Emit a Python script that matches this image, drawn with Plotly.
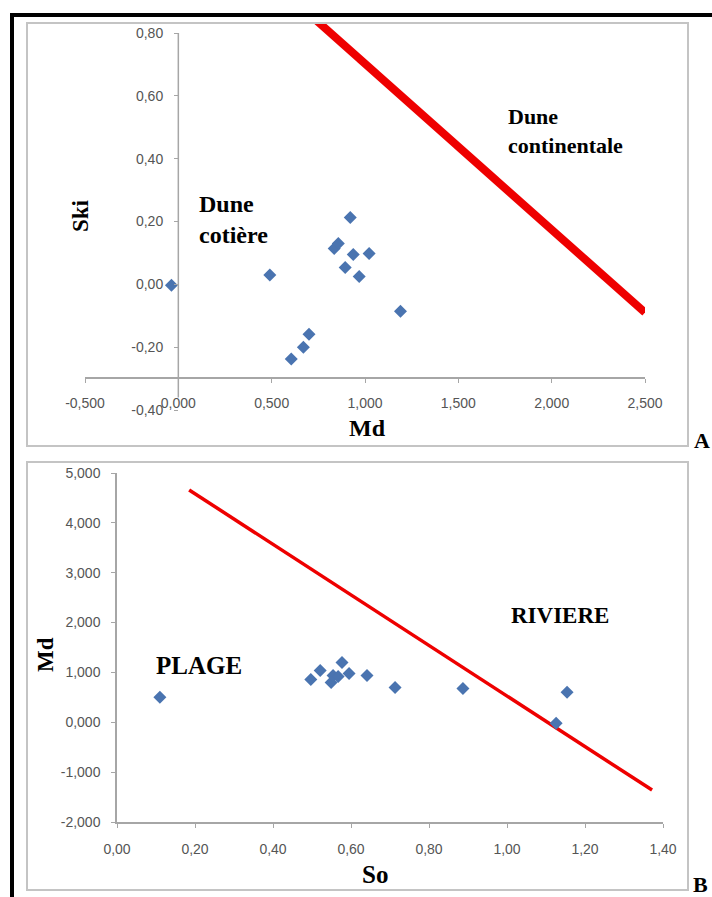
import plotly.graph_objects as go

# ---------------- data ----------------
# Panel A : Ski vs Md
md_a = [-0.037, 0.49, 0.605, 0.67, 0.70, 0.835, 0.857, 0.894, 0.921, 0.937, 0.969, 1.022, 1.19]
ski_a = [-0.003, 0.03, -0.238, -0.20, -0.159, 0.114, 0.130, 0.054, 0.213, 0.095, 0.025, 0.098, -0.086]
line_a_x = [0.74, 2.5]
line_a_y = [0.84, -0.09]

# Panel B : Md vs So
so_b = [0.110, 0.497, 0.521, 0.549, 0.554, 0.567, 0.577, 0.595, 0.641, 0.713, 0.887, 1.126, 1.154]
md_b = [0.50, 0.86, 1.04, 0.80, 0.94, 0.92, 1.20, 0.98, 0.94, 0.70, 0.68, -0.02, 0.60]
line_b_x = [0.185, 1.372]
line_b_y = [4.66, -1.36]

# tick labels
a_xvals = [-0.5, 0.0, 0.5, 1.0, 1.5, 2.0, 2.5]
a_xtext = ["-0,500", "0,000", "0,500", "1,000", "1,500", "2,000", "2,500"]
a_yvals = [-0.4, -0.2, 0.0, 0.2, 0.4, 0.6, 0.8]
a_ytext = ["-0,40", "-0,20", "0,00", "0,20", "0,40", "0,60", "0,80"]
b_xvals = [0.0, 0.2, 0.4, 0.6, 0.8, 1.0, 1.2, 1.4]
b_xtext = ["0,00", "0,20", "0,40", "0,60", "0,80", "1,00", "1,20", "1,40"]
b_yvals = [-2, -1, 0, 1, 2, 3, 4, 5]
b_ytext = ["-2,000", "-1,000", "0,000", "1,000", "2,000", "3,000", "4,000", "5,000"]

W, H = 712, 897
def PX(p):
    return p / W
def PY(p):
    return 1 - p / H

BLUE = "#4a74b0"
RED = "#ee0000"
AX = "#a6a6a6"
TICKFONT = dict(family="Liberation Sans, Arial, sans-serif", size=14, color="#555555")
SERIF = "Liberation Serif, Times New Roman, serif"

fig = go.Figure()

fig.add_trace(go.Scatter(x=line_a_x, y=line_a_y, mode="lines",
                         line=dict(color=RED, width=8), xaxis="x", yaxis="y",
                         showlegend=False, hoverinfo="skip"))
fig.add_trace(go.Scatter(x=md_a, y=ski_a, mode="markers",
                         marker=dict(symbol="diamond", size=10, color=BLUE),
                         xaxis="x", yaxis="y", showlegend=False, cliponaxis=False))

fig.add_trace(go.Scatter(x=line_b_x, y=line_b_y, mode="lines",
                         line=dict(color=RED, width=3.5), xaxis="x2", yaxis="y2",
                         showlegend=False, hoverinfo="skip"))
fig.add_trace(go.Scatter(x=so_b, y=md_b, mode="markers",
                         marker=dict(symbol="diamond", size=10, color=BLUE),
                         xaxis="x2", yaxis="y2", showlegend=False, cliponaxis=False))

common = dict(showgrid=False, zeroline=False, automargin=False, ticks="outside",
              ticklen=4, tickcolor=AX, tickfont=TICKFONT)

fig.update_layout(
    width=W, height=H,
    margin=dict(l=0, r=0, t=0, b=0, pad=0),
    paper_bgcolor="white", plot_bgcolor="white",
    xaxis=dict(domain=[PX(85), PX(645)], range=[-0.5, 2.5], anchor="free",
               position=PY(378), tickvals=a_xvals, ticktext=a_xtext,
               showline=True, linecolor=AX, linewidth=1.5,
               ticklabelstandoff=8, **common),
    yaxis=dict(domain=[PY(410), PY(23)], range=[-0.40, 0.832], anchor="free",
               position=PX(178), tickvals=a_yvals, ticktext=a_ytext,
               showline=False, ticklabelstandoff=8, **common),
    xaxis2=dict(domain=[PX(117), PX(663)], range=[0, 1.4], anchor="y2",
                tickvals=b_xvals, ticktext=b_xtext,
                showline=True, linecolor=AX, linewidth=1.5,
                ticklabelstandoff=9, **common),
    yaxis2=dict(domain=[PY(822), PY(473)], range=[-2, 5], anchor="x2",
                tickvals=b_yvals, ticktext=b_ytext,
                showline=True, linecolor=AX, linewidth=1.5,
                ticklabelstandoff=8, **common),
)

shapes = [
    # vertical axis line of panel A (crossing at x = 0)
    dict(type="line", xref="x", yref="y", x0=0, x1=0, y0=-0.36, y1=0.80,
         line=dict(color=AX, width=1.5)),
    # chart-area frames
    dict(type="rect", xref="paper", yref="paper", x0=PX(27), x1=PX(688),
         y0=PY(446), y1=PY(23), line=dict(color="#c4c4c4", width=2)),
    dict(type="rect", xref="paper", yref="paper", x0=PX(27), x1=PX(688),
         y0=PY(890), y1=PY(462), line=dict(color="#c4c4c4", width=2)),
    # black outer border (top and left)
    dict(type="line", xref="paper", yref="paper", x0=PX(10), x1=1.0,
         y0=PY(15), y1=PY(15), line=dict(color="black", width=4)),
    dict(type="line", xref="paper", yref="paper", x0=PX(12), x1=PX(12),
         y0=PY(13), y1=0, line=dict(color="black", width=4)),
]
fig.update_layout(shapes=shapes)

def ann(text, x, y, size, xanchor="center", yanchor="middle", angle=0, align="left"):
    return dict(text=text, x=PX(x), y=PY(y), xref="paper", yref="paper",
                xanchor=xanchor, yanchor=yanchor, showarrow=False,
                textangle=angle, align=align,
                font=dict(family=SERIF, size=size, color="black"))

annotations = [
    ann("<b>Ski</b>", 80, 216, 23, angle=-90),
    ann("<b>Md</b>", 367, 428, 24),
    ann("<b>Dune<br>cotière</b>", 197, 219, 24, xanchor="left"),
    ann("<b>Dune<br>continentale</b>", 506, 131, 22, xanchor="left"),
    ann("<b>A</b>", 702, 440, 22),
    ann("<b>Md</b>", 45, 655, 23, angle=-90),
    ann("<b>So</b>", 375, 874, 25),
    ann("<b>PLAGE</b>", 154, 665, 25, xanchor="left"),
    ann("<b>RIVIERE</b>", 509, 615, 23, xanchor="left"),
    ann("<b>B</b>", 700, 884, 22),
]
fig.update_layout(annotations=annotations)

fig.write_html("out.html", config={"displayModeBar": False},
               post_script="document.body.style.margin='0';document.body.style.overflow='hidden';")
